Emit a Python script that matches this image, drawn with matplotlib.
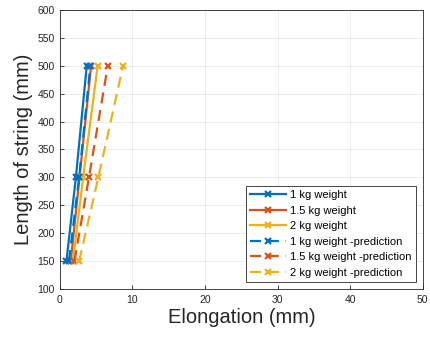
import matplotlib
matplotlib.use("Agg")
import matplotlib.pyplot as plt

plt.rcParams['font.family'] = ['Liberation Sans', 'DejaVu Sans']

length = [150, 300, 500]
elong_1kg = [0.9, 2.2, 3.7]
elong_15kg = [1.5, 2.7, 4.3]
elong_2kg = [1.8, 3.2, 5.2]
elong_1kg_pred = [1.25, 2.65, 4.2]
elong_15kg_pred = [2.0, 4.0, 6.6]
elong_2kg_pred = [2.65, 5.3, 8.7]

labels = ['1 kg weight', '1.5 kg weight', '2 kg weight',
          '1 kg weight -prediction', '1.5 kg weight -prediction', '2 kg weight -prediction']
colors = ['#0072BD', '#D95319', '#EDB120']

fig = plt.figure(figsize=(4.31, 3.4), dpi=100)
ax = fig.add_axes([0.139, 0.15, 0.842, 0.821])

series = [elong_1kg, elong_15kg, elong_2kg, elong_1kg_pred, elong_15kg_pred, elong_2kg_pred]
for i, s in enumerate(series):
    ls = '-' if i < 3 else (0, (5, 3))
    ax.plot(s, length, linestyle=ls, color=colors[i % 3], lw=1.6, marker='x',
            ms=5, mew=1.6, label=labels[i])

ax.set_xlim(0, 50)
ax.set_ylim(100, 600)
ax.set_xticks(range(0, 51, 10))
ax.set_yticks(range(100, 601, 50))
ax.grid(True, color='#262626', alpha=0.1, lw=0.6)
ax.set_axisbelow(True)
ax.tick_params(direction='in', length=3, labelsize=7.5, colors='#262626', width=0.6)
ax.tick_params(axis='x', pad=4.3)
ax.tick_params(axis='y', pad=3.6)
for sp in ax.spines.values():
    sp.set_color('#262626')
    sp.set_linewidth(0.6)
ax.set_xlabel('Elongation (mm)', fontsize=14.5, color='#262626', labelpad=2)
ax.set_ylabel('Length of string (mm)', fontsize=14.5, color='#262626', labelpad=3)

leg = ax.legend(loc='lower right', fontsize=8, frameon=True, fancybox=False,
                edgecolor='#262626', framealpha=1, borderpad=0.4, labelspacing=0.5,
                handlelength=3.2, handletextpad=0.4, borderaxespad=0.6)
leg.get_frame().set_linewidth(0.6)

fig.savefig('out.png', dpi=100)
